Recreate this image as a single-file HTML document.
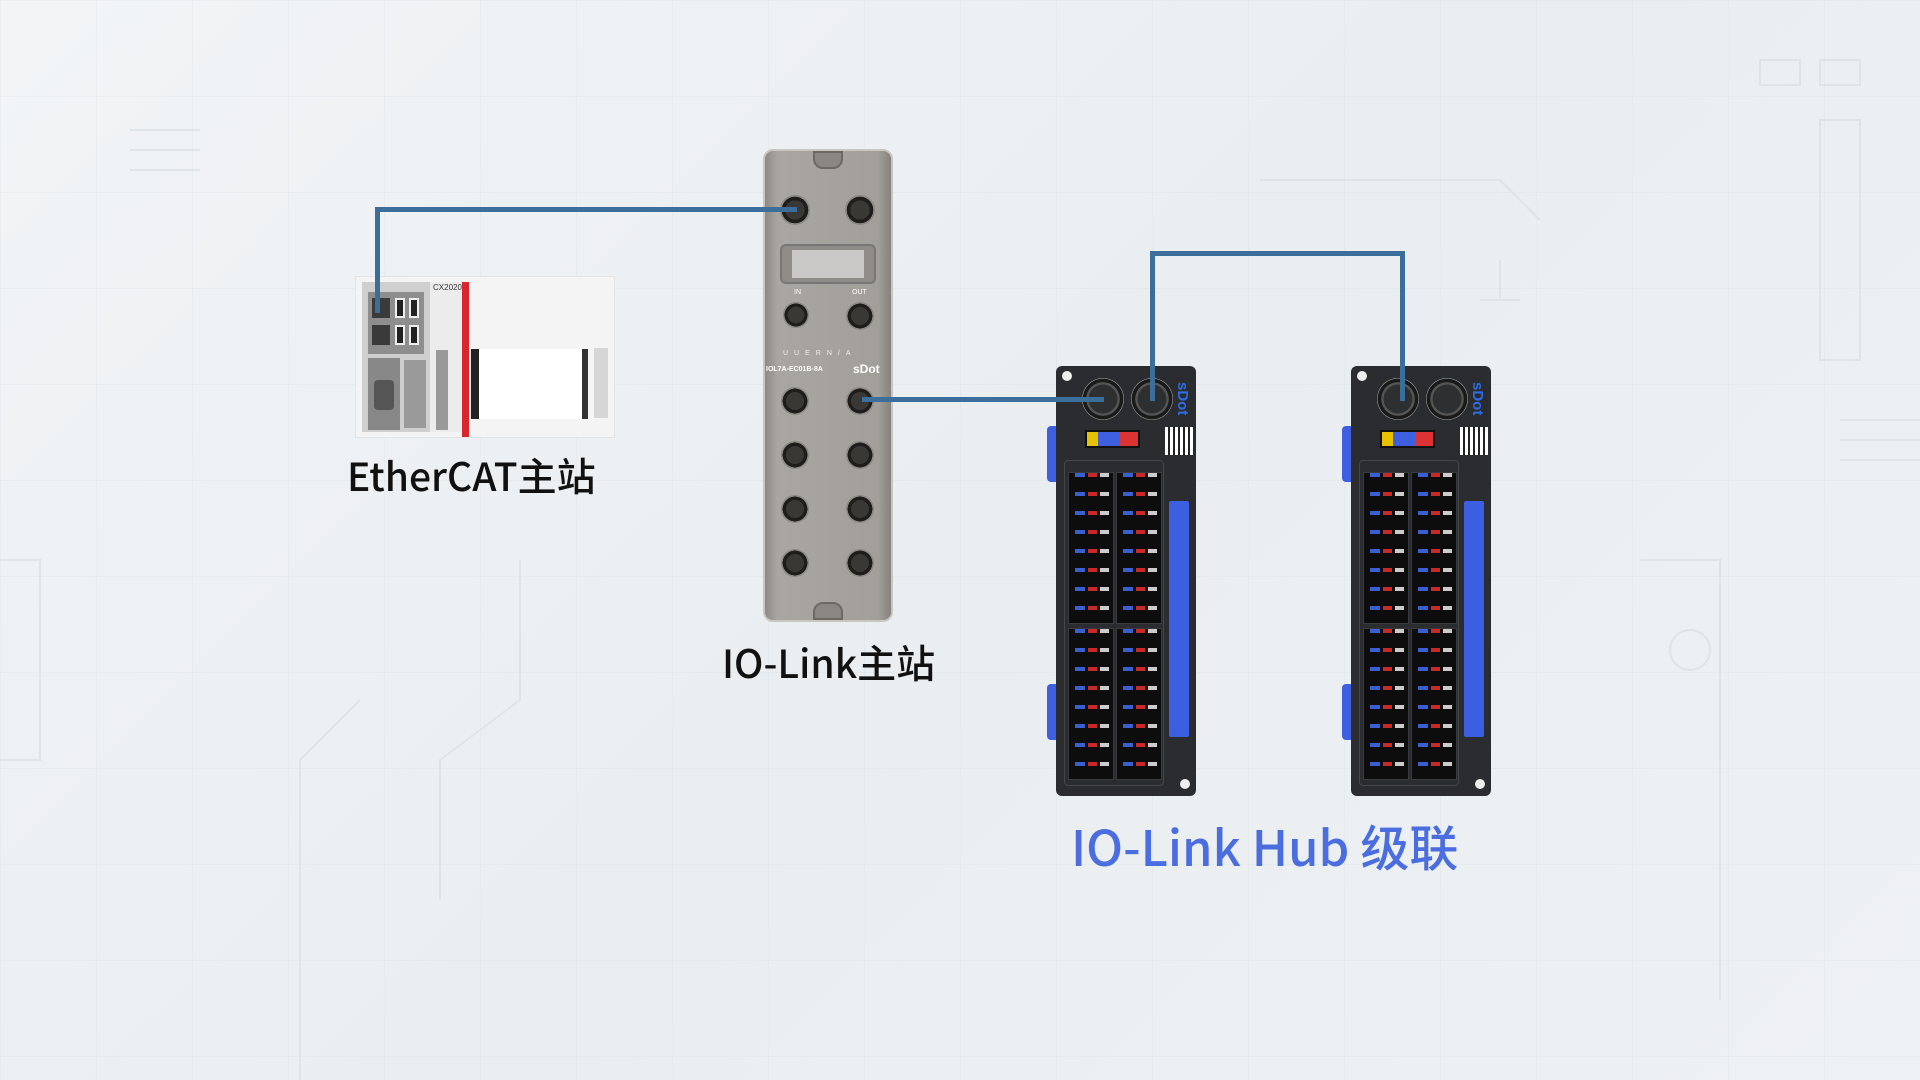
<!DOCTYPE html>
<html><head><meta charset="utf-8"><style>
*{margin:0;padding:0;box-sizing:border-box}
body{width:1920px;height:1080px;overflow:hidden;position:relative;background:linear-gradient(135deg,#f2f4f6 0%,#eaeef1 50%,#eef1f3 100%);font-family:"Liberation Sans","Noto Sans CJK SC",sans-serif}
.a{position:absolute}
.grid{position:absolute;inset:0;background-image:linear-gradient(rgba(200,210,218,.18) 1px,transparent 1px),linear-gradient(90deg,rgba(200,210,218,.18) 1px,transparent 1px);background-size:96px 96px}
.conn{position:absolute;border-radius:50%;background:radial-gradient(circle,#3a3835 0 45%,#1e1d1c 46% 62%,#8b8884 63% 72%,#5b5955 73% 100%)}
.hconn{position:absolute;border-radius:50%;background:radial-gradient(circle,#2e2f31 0 48%,#555 49% 56%,#1a1a1b 57% 68%,#9a9a9a 69% 78%,#444 79% 100%)}
.cell{position:absolute;width:46px;height:152px;border:1px solid #3a3b3e;background:
 repeating-linear-gradient(180deg,transparent 0 4px,#0d0d0e 4px 19px),
 linear-gradient(90deg,transparent 0 6px,#3a5fd0 6px 16px,transparent 16px 19px,#c82a2a 19px 28px,transparent 28px 31px,#ccc 31px 40px,transparent 40px),
 #0d0d0e;}
.lbl{position:absolute;font-size:39px;color:#111;white-space:nowrap;font-family:"Noto Sans CJK SC","Liberation Sans",sans-serif;font-weight:500}
.wire{position:absolute;background:#3c6e9c}
</style></head><body>
<div class="grid"></div>
<svg class="a" style="left:0;top:0" width="1920" height="1080">
<g stroke="#dce1e5" stroke-width="2" fill="none" opacity=".8">
<path d="M0 560 L40 560 L40 760 L0 760"/><path d="M440 900 L440 760 L520 700 L520 560"/>
<path d="M300 1080 L300 760 L360 700"/><path d="M1820 120 L1860 120 L1860 360 L1820 360 Z"/>
<path d="M1640 560 L1720 560 L1720 1000"/><circle cx="1690" cy="650" r="20"/>
<path d="M1260 180 L1500 180 L1540 220"/><path d="M1500 260 L1500 300 M1480 300 L1520 300"/>
<path d="M130 130 L200 130 M130 150 L200 150 M130 170 L200 170"/>
<path d="M1760 60 h40 v25 h-40z M1820 60 h40 v25 h-40z"/>
<path d="M1840 420 L1920 420 M1840 440 L1920 440 M1840 460 L1920 460"/>
</g></svg>

<!-- EtherCAT master -->
<div class="a" style="left:355px;top:276px;width:260px;height:162px;background:#f4f4f4;border:1px solid #e4e4e4"></div>
<div class="a" style="left:362px;top:282px;width:68px;height:150px;background:#cfcfcf"></div>
<div class="a" style="left:368px;top:292px;width:56px;height:62px;background:#8e8e8e"></div>
<div class="a" style="left:372px;top:298px;width:18px;height:20px;background:#3a3a3a"></div>
<div class="a" style="left:372px;top:325px;width:18px;height:20px;background:#3a3a3a"></div>
<div class="a" style="left:395px;top:298px;width:10px;height:20px;background:#222;border:2px solid #eee"></div>
<div class="a" style="left:409px;top:298px;width:10px;height:20px;background:#222;border:2px solid #eee"></div>
<div class="a" style="left:395px;top:325px;width:10px;height:20px;background:#222;border:2px solid #eee"></div>
<div class="a" style="left:409px;top:325px;width:10px;height:20px;background:#222;border:2px solid #eee"></div>
<div class="a" style="left:368px;top:358px;width:32px;height:72px;background:#888"></div>
<div class="a" style="left:374px;top:380px;width:20px;height:30px;background:#555;border-radius:4px"></div>
<div class="a" style="left:404px;top:360px;width:22px;height:68px;background:#9a9a9a"></div>
<div class="a" style="left:430px;top:282px;width:32px;height:150px;background:#ececec"></div>
<div class="a" style="left:436px;top:350px;width:12px;height:80px;background:#999"></div>
<div class="a" style="left:462px;top:282px;width:7px;height:155px;background:#d9262c"></div>
<div class="a" style="left:471px;top:349px;width:117px;height:70px;background:#fff;border-left:8px solid #222;border-right:6px solid #333"></div>
<div class="a" style="left:594px;top:348px;width:14px;height:70px;background:#d6d6d6"></div>
<div class="a" style="left:433px;top:283px;font-size:8px;color:#333">CX2020</div>
<div class="lbl" style="left:347px;top:447px">EtherCAT主站</div>

<!-- IO-Link master -->
<div class="a" style="left:763px;top:149px;width:130px;height:473px;background:linear-gradient(90deg,#8d8a86,#a9a6a2 10%,#a29f9b 90%,#85827e);border-radius:10px;border:2px solid #c9c6c2"></div>
<div class="a" style="left:813px;top:151px;width:30px;height:18px;background:#8a8783;border-radius:0 0 10px 10px;border:2px solid #6c6965"></div>
<div class="a" style="left:813px;top:602px;width:30px;height:18px;background:#8a8783;border-radius:10px 10px 0 0;border:2px solid #6c6965"></div>
<div class="conn" style="left:780px;top:195px;width:30px;height:30px"></div>
<div class="conn" style="left:845px;top:195px;width:30px;height:30px"></div>
<div class="a" style="left:780px;top:244px;width:96px;height:40px;background:#8f8c88;border-radius:6px;border:2px solid #777"></div>
<div class="a" style="left:792px;top:250px;width:72px;height:28px;background:#c9c8c6"></div>
<div class="a" style="left:794px;top:289px;font-size:7px;color:#fff">IN</div>
<div class="a" style="left:852px;top:289px;font-size:7px;color:#fff">OUT</div>
<div class="conn" style="left:783px;top:302px;width:26px;height:26px"></div>
<div class="conn" style="left:846px;top:302px;width:28px;height:28px"></div>
<div class="a" style="left:783px;top:350px;font-size:7px;color:#eee;letter-spacing:6px">UUERN/A</div>
<div class="a" style="left:766px;top:366px;font-size:7px;color:#fff;font-weight:bold">IOL7A-EC01B-8A</div>
<div class="a" style="left:853px;top:362px;font-size:12px;color:#fff;font-weight:bold">sDot</div>
<div class="conn" style="left:781px;top:387px;width:28px;height:28px"></div>
<div class="conn" style="left:846px;top:387px;width:28px;height:28px"></div>
<div class="conn" style="left:781px;top:441px;width:28px;height:28px"></div>
<div class="conn" style="left:846px;top:441px;width:28px;height:28px"></div>
<div class="conn" style="left:781px;top:495px;width:28px;height:28px"></div>
<div class="conn" style="left:846px;top:495px;width:28px;height:28px"></div>
<div class="conn" style="left:781px;top:549px;width:28px;height:28px"></div>
<div class="conn" style="left:846px;top:549px;width:28px;height:28px"></div>
<div class="lbl" style="left:722px;top:634px">IO-Link主站</div>

<!-- hubs -->
<div class="a" style="left:1056px;top:366px;width:140px;height:430px">
 <div class="a" style="left:-9px;top:60px;width:12px;height:56px;background:#3d5fe0;border-radius:4px"></div>
 <div class="a" style="left:-9px;top:318px;width:12px;height:56px;background:#3d5fe0;border-radius:4px"></div>
 <div class="a" style="left:0;top:0;width:140px;height:430px;background:#2b2c2f;border-radius:6px"></div>
 <div class="a" style="left:6px;top:5px;width:10px;height:10px;background:#eee;border-radius:50%"></div>
 <div class="a" style="left:124px;top:413px;width:10px;height:10px;background:#eee;border-radius:50%"></div>
 <div class="hconn" style="left:26px;top:12px;width:42px;height:42px"></div>
 <div class="hconn" style="left:75px;top:12px;width:42px;height:42px"></div>
 <div class="a" style="left:118px;top:16px;font-size:15px;color:#2d6ee8;font-weight:bold;writing-mode:vertical-rl">sDot</div>
 <div class="a" style="left:29px;top:64px;width:55px;height:18px;background:linear-gradient(90deg,#e8c100 0 11px,#3d5fe0 11px 33px,#d33 33px);border:2px solid #111"></div>
 <div class="a" style="left:109px;top:61px;width:28px;height:28px;background:repeating-linear-gradient(90deg,#fff 0 3px,#222 3px 5px),#fff"></div>
 <div class="a" style="left:8px;top:94px;width:100px;height:326px;border:1px solid #45464a;border-radius:4px"></div>
 <div class="cell" style="left:12px;top:106px"></div>
 <div class="cell" style="left:60px;top:106px"></div>
 <div class="cell" style="left:12px;top:262px"></div>
 <div class="cell" style="left:60px;top:262px"></div>
 <div class="a" style="left:113px;top:135px;width:20px;height:236px;background:#3b5fe0;border-radius:2px"></div>
</div>
<div class="a" style="left:1351px;top:366px;width:140px;height:430px">
 <div class="a" style="left:-9px;top:60px;width:12px;height:56px;background:#3d5fe0;border-radius:4px"></div>
 <div class="a" style="left:-9px;top:318px;width:12px;height:56px;background:#3d5fe0;border-radius:4px"></div>
 <div class="a" style="left:0;top:0;width:140px;height:430px;background:#2b2c2f;border-radius:6px"></div>
 <div class="a" style="left:6px;top:5px;width:10px;height:10px;background:#eee;border-radius:50%"></div>
 <div class="a" style="left:124px;top:413px;width:10px;height:10px;background:#eee;border-radius:50%"></div>
 <div class="hconn" style="left:26px;top:12px;width:42px;height:42px"></div>
 <div class="hconn" style="left:75px;top:12px;width:42px;height:42px"></div>
 <div class="a" style="left:118px;top:16px;font-size:15px;color:#2d6ee8;font-weight:bold;writing-mode:vertical-rl">sDot</div>
 <div class="a" style="left:29px;top:64px;width:55px;height:18px;background:linear-gradient(90deg,#e8c100 0 11px,#3d5fe0 11px 33px,#d33 33px);border:2px solid #111"></div>
 <div class="a" style="left:109px;top:61px;width:28px;height:28px;background:repeating-linear-gradient(90deg,#fff 0 3px,#222 3px 5px),#fff"></div>
 <div class="a" style="left:8px;top:94px;width:100px;height:326px;border:1px solid #45464a;border-radius:4px"></div>
 <div class="cell" style="left:12px;top:106px"></div>
 <div class="cell" style="left:60px;top:106px"></div>
 <div class="cell" style="left:12px;top:262px"></div>
 <div class="cell" style="left:60px;top:262px"></div>
 <div class="a" style="left:113px;top:135px;width:20px;height:236px;background:#3b5fe0;border-radius:2px"></div>
</div>
<div class="lbl" style="left:1071px;top:810px;font-size:49px;color:#4a6de0">IO-Link Hub 级联</div>

<!-- wires -->
<div class="wire" style="left:375px;top:207px;width:5px;height:106px"></div>
<div class="wire" style="left:375px;top:207px;width:422px;height:5px"></div>
<div class="wire" style="left:862px;top:397px;width:242px;height:5px"></div>
<div class="wire" style="left:1150px;top:251px;width:5px;height:150px"></div>
<div class="wire" style="left:1150px;top:251px;width:255px;height:5px"></div>
<div class="wire" style="left:1400px;top:251px;width:5px;height:150px"></div>
</body></html>
